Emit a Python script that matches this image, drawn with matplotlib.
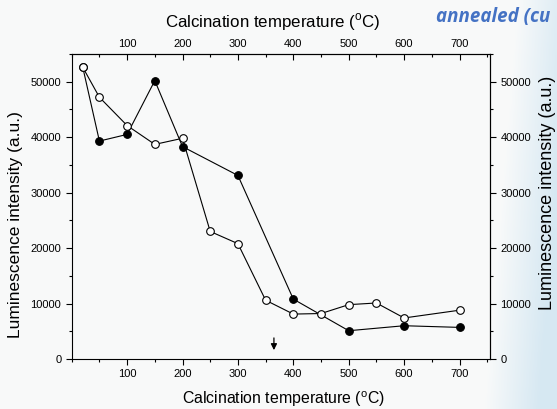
import matplotlib
matplotlib.use("Agg")
import matplotlib.pyplot as plt
import numpy as np
from matplotlib.ticker import MultipleLocator

plt.rcParams["font.family"] = ["Liberation Sans", "DejaVu Sans"]
plt.rcParams["mathtext.fontset"] = "custom"
plt.rcParams["mathtext.rm"] = "Liberation Sans"

# open circles
temp_open = [20, 50, 100, 150, 200, 250, 300, 350, 400, 450, 500, 550, 600, 700]
lum_open = [52600, 47200, 42100, 38700, 39800, 23000, 20800, 10600, 8100, 8200, 9800, 10100, 7400, 8800]

# filled circles
temp_filled = [20, 50, 100, 150, 200, 300, 400, 500, 600, 700]
lum_filled = [52600, 39300, 40500, 50200, 38300, 33100, 10800, 5100, 6000, 5700]

xlabel = r"Calcination temperature ($^{\rm o}$C)"
ylabel = "Luminescence intensity (a.u.)"

W, H = 557, 409
fig = plt.figure(figsize=(W / 100, H / 100), dpi=100)
fig.patch.set_facecolor("#f9fafa")

# faint bluish slide background at the right edge
bg = fig.add_axes([0, 0, 1, 1], zorder=-10)
gx = np.linspace(0, 1, 200)
gy = np.linspace(0, 1, 200)
GX, GY = np.meshgrid(gx, gy)
w = np.clip((GX - 0.9) * 10 + (0.5 - GY) * 0.6, 0, 1)
rgb = np.zeros((200, 200, 3))
c0 = np.array([0.976, 0.98, 0.98])
c1 = np.array([0.84, 0.91, 0.95])
for i in range(3):
    rgb[..., i] = c0[i] * (1 - w) + c1[i] * w
bg.imshow(rgb, extent=[0, 1, 0, 1], origin="lower", aspect="auto")
bg.axis("off")

ax = fig.add_axes([71.7 / W, 50 / H, 418.3 / W, 305 / H])
ax.patch.set_alpha(0)

ax.plot(temp_filled, lum_filled, "-o", color="black", lw=0.8,
        ms=5.5, mfc="black", mec="black", mew=0.8, zorder=3)
ax.plot(temp_open, lum_open, "-o", color="black", lw=0.8,
        ms=5.5, mfc="white", mec="black", mew=0.8, zorder=4)

ax.annotate("", xy=(365, 1600), xytext=(365, 3800),
            arrowprops=dict(arrowstyle="-|>", color="black", lw=0.9,
                            mutation_scale=9, shrinkA=0, shrinkB=0))

ax.set_xlim(0, 755)
ax.set_ylim(0, 55000)
ax.xaxis.set_major_locator(MultipleLocator(100))
ax.xaxis.set_minor_locator(MultipleLocator(50))
ax.yaxis.set_major_locator(MultipleLocator(10000))
ax.yaxis.set_minor_locator(MultipleLocator(5000))
ax.set_xticks([100, 200, 300, 400, 500, 600, 700])
ax.tick_params(axis="both", which="major", direction="out", length=4,
               width=0.8, labelsize=8)
ax.tick_params(axis="both", which="minor", direction="out", length=2.5,
               width=0.8)
for s in ax.spines.values():
    s.set_linewidth(0.8)

top = ax.secondary_xaxis("top")
top.set_xticks([100, 200, 300, 400, 500, 600, 700])
top.xaxis.set_minor_locator(MultipleLocator(50))
top.tick_params(which="major", direction="in", length=4, width=0.8, labelsize=8)
top.tick_params(which="minor", direction="in", length=2.5, width=0.8)

right = ax.secondary_yaxis("right")
right.yaxis.set_major_locator(MultipleLocator(10000))
right.yaxis.set_minor_locator(MultipleLocator(5000))
right.tick_params(which="major", direction="out", length=4, width=0.8, labelsize=8)
right.tick_params(which="minor", direction="out", length=2.5, width=0.8)

# axis titles placed by hand, as on the slide
fig.text(273 / W, 1 - 22 / H, xlabel, fontsize=12.2, ha="center", va="center")
fig.text(283 / W, 1 - 399 / H, xlabel, fontsize=11.4, ha="center", va="center")
fig.text(16 / W, 1 - 225 / H, ylabel, fontsize=12.5, rotation=90,
         ha="center", va="center")
fig.text(548 / W, 1 - 193 / H, ylabel, fontsize=13, rotation=90,
         ha="center", va="center")
fig.text(436 / W, 1 - 17 / H, "annealed (cu", color="#4472c4", fontsize=13.5,
         fontweight="bold", fontstyle="italic", family="Open Sans",
         ha="left", va="center")

fig.savefig("out.png", dpi=100, facecolor=fig.get_facecolor())
